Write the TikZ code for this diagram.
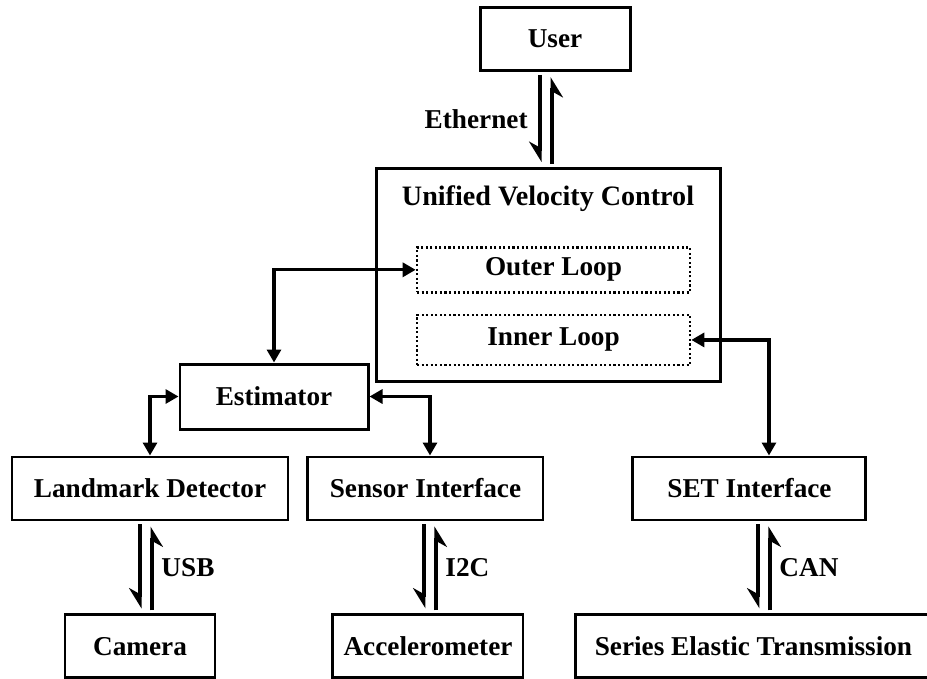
\documentclass[tikz,border=0pt]{standalone}
\usepackage{fontspec}
\setmainfont{Liberation Serif}
\usetikzlibrary{arrows.meta, positioning}
\tikzstyle{block} = [
	rectangle,
	minimum height=1.26cm,
	text centered,
	draw=black,
	line width=1.7pt,
	font=\bfseries\fontsize{15.5}{18}\selectfont
]
\tikzstyle{loopbox} = [
	rectangle,
	minimum width=5.46cm,
	text centered,
	draw=black,
	line width=1.5pt,
	dash pattern=on 1.2pt off 1.4pt,
	font=\bfseries\fontsize{15.5}{18}\selectfont
]
\tikzstyle{boxtitle} = [font=\bfseries\fontsize{16}{19}\selectfont]
\tikzstyle{linklabel} = [font=\bfseries\fontsize{15.5}{18}\selectfont]
\tikzstyle{arrow} = [line width=1.8pt, {Triangle[length=0.26cm,width=0.28cm]}-{Triangle[length=0.26cm,width=0.28cm]}]
\tikzstyle{linkarrow} = [line width=1.8pt, -{Stealth[right,length=0.36cm,width=0.44cm,inset=0.12cm]}, shorten <=0.06cm, shorten >=0.1cm]

\begin{document}
\begin{tikzpicture}
	\useasboundingbox (0,0) rectangle (18.54,-13.58);
	\node (user) [block, minimum width=3cm] at (11.1,-0.78) {User};
	\node (uvc) [block, minimum width=6.88cm, minimum height=4.26cm, below=1.9cm of user, xshift=-0.14cm] {};
	\node (uvctitle) [boxtitle, below=0.25cm of uvc.north] {Unified Velocity Control};
	\node (outer) [loopbox, minimum height=0.9cm, below=1.58cm of uvc.north, xshift=0.11cm] {Outer Loop};
	\node (inner) [loopbox, minimum height=1cm, below=0.4cm of outer] {Inner Loop};

	\node (landmark) [block, minimum width=5.52cm] at (3.0,-9.77) {Landmark Detector};
	\node (sensor) [block, minimum width=4.7cm, right=0.34cm of landmark] {Sensor Interface};
	\node (set) [block, minimum width=4.66cm, right=1.74cm of sensor] {SET Interface};
	\node (estimator) [block, minimum width=3.76cm, minimum height=1.3cm, above=0.5cm of landmark, xshift=2.48cm] {Estimator};
	\node (camera) [block, minimum width=3cm, below=1.84cm of landmark, xshift=-0.2cm] {Camera};
	\node (accel) [block, minimum width=3.8cm, below=1.84cm of sensor, xshift=0.05cm] {Accelerometer};
	\node (transmission) [block, minimum width=7.1cm, below=1.84cm of set, xshift=0.08cm] {Series Elastic Transmission};

	% data paths
	\draw [arrow] (estimator.north) |- (outer.west);
	\draw [arrow] (estimator.west) -| (landmark.north);
	\draw [arrow] (estimator.east) -| ([xshift=0.09cm]sensor.north);
	\draw [arrow] (inner.east) -| ([xshift=0.39cm]set.north);

	% links
	\draw [linkarrow] ([xshift=-0.3cm]user.south) -- node (ethlabel) [linklabel, anchor=east, xshift=-0.1cm] {Ethernet} ([xshift=-0.3cm]user.south |- uvc.north);
	\draw [linkarrow] ([xshift=-0.06cm]user.south |- uvc.north) -- ([xshift=-0.06cm]user.south);
	\draw [linkarrow] ([xshift=-0.2cm]landmark.south) -- ([xshift=-0.2cm]landmark.south |- camera.north);
	\draw [linkarrow] ([xshift=0.04cm]landmark.south |- camera.north) -- node (usblabel) [linklabel, anchor=west, xshift=0.04cm] {USB} ([xshift=0.04cm]landmark.south);
	\draw [linkarrow] ([xshift=-0.03cm]sensor.south) -- ([xshift=-0.03cm]sensor.south |- accel.north);
	\draw [linkarrow] ([xshift=0.21cm]sensor.south |- accel.north) -- node (i2clabel) [linklabel, anchor=west, xshift=0.04cm] {I2C} ([xshift=0.21cm]sensor.south);
	\draw [linkarrow] ([xshift=0.17cm]set.south) -- ([xshift=0.17cm]set.south |- transmission.north);
	\draw [linkarrow] ([xshift=0.41cm]set.south |- transmission.north) -- node (canlabel) [linklabel, anchor=west, xshift=0.04cm] {CAN} ([xshift=0.41cm]set.south);
\end{tikzpicture}
\end{document}
